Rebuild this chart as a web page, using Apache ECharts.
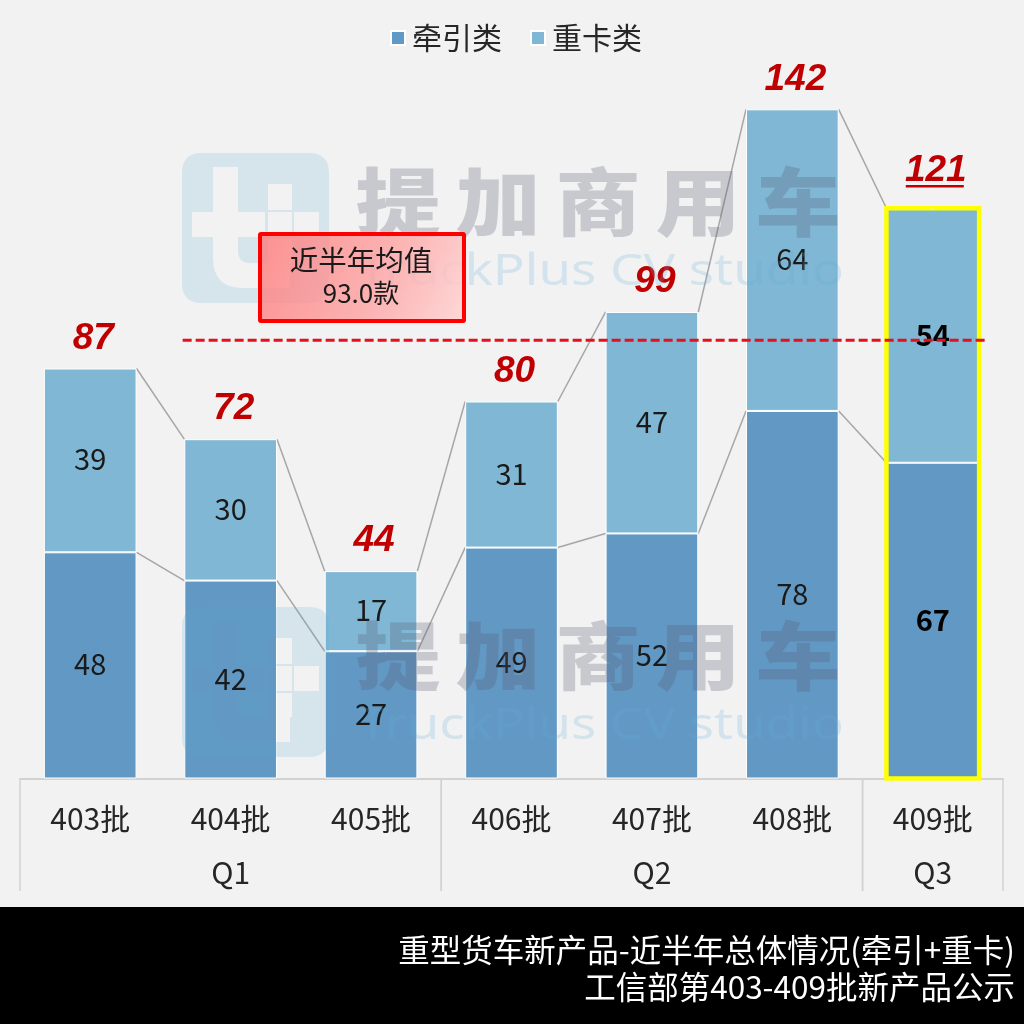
<!DOCTYPE html>
<html>
<head>
<meta charset="utf-8">
<style>html,body{margin:0;padding:0;background:#f2f2f2}#chart{width:1024px;height:1024px}</style>
<script src="https://cdn.jsdelivr.net/npm/echarts@6/dist/echarts.min.js"></script>
</head>
<body>
<div id="chart"></div>
<script>
// Heavy-truck new product counts per MIIT batch
const batches = ['403批', '404批', '405批', '406批', '407批', '408批', '409批'];
const tractor = [48, 42, 27, 49, 52, 78, 67];
const heavy = [39, 30, 17, 31, 47, 64, 54];
const totals = [87, 72, 44, 80, 99, 142, 121];
const quarters = ['Q1', 'Q2', 'Q3'];
const quarterStart = [0, 3, 6];
const quarterEnd = [2, 5, 6];
const averageValue = 93.0;
const highlightIndex = 6;
const titleLines = ['重型货车新产品-近半年总体情况(牵引+重卡)', '工信部第403-409批新产品公示'];

const CJK = '"Noto Sans CJK SC","Noto Sans",sans-serif';
const BAR_RATIO = 0.66;
const MARK_OFFSETS = [0, 454];

function halfBar(api) { return api.size([1, 0])[0] * BAR_RATIO / 2; }

// Outline of the brand tile: rounded square with a cut-out "t" and blocks
function tilePath() {
  const box = (x, y, w, h) => `M${x} ${y}L${x} ${y + h}L${x + w} ${y + h}L${x + w} ${y}Z`;
  const tile = 'M202 153L309 153Q329 153 329 173L329 283Q329 303 309 303L202 303Q182 303 182 283L182 173Q182 153 202 153Z';
  const stem = 'M213 167L213 212L192 212L192 237L213 237L213 258Q213 288 243 288L290 288L290 263L250 263Q238 263 238 251L238 237L265 237L265 212L238 212L238 167Z';
  return [tile, stem, box(268, 184, 24, 26), box(268, 212, 24, 25), box(294, 212, 25, 25), box(268, 239, 24, 24)].join(' ');
}

// Wordmark and English name placed over the plot
function brandText(dy) {
  const items = [];
  Array.from('提加商用车').forEach((ch, i) => items.push({
    type: 'text', z: 20, silent: true, x: 398 + i * 100, y: 202 + dy, scaleX: 1.15,
    style: { text: ch, font: `900 74px ${CJK}`, fill: 'rgba(90,90,115,0.27)', align: 'center', verticalAlign: 'middle' }
  }));
  items.push({
    type: 'text', z: 20, silent: true, x: 601, y: 272 + dy, scaleX: 1.2, originX: 0,
    style: { text: 'TruckPlus CV studio', font: '44px "Noto Sans",sans-serif', fill: 'rgba(100,175,220,0.22)', align: 'center', verticalAlign: 'middle' }
  });
  return items;
}

const dataLabel = {
  show: true, position: 'inside', offset: [0, -1],
  fontFamily: CJK, fontSize: 29, color: '#1a1a1a'
};

const option = {
  backgroundColor: '#f2f2f2',
  animation: false,
  title: {
    text: titleLines.join('\n'),
    left: 1010, top: 927,
    textAlign: 'right',
    textStyle: { color: '#fff', fontFamily: CJK, fontSize: 31.5, fontWeight: 400, lineHeight: 37 }
  },
  legend: {
    data: ['牵引类', '重卡类'],
    left: 385, top: 18,
    icon: 'rect', itemWidth: 14, itemHeight: 14, itemGap: 28,
    textStyle: { fontFamily: CJK, fontSize: 30, color: '#262626', padding: [0, 0, 0, 2] }
  },
  grid: { left: 20, right: 21, top: 24.5, bottom: 245.5 },
  xAxis: {
    type: 'category',
    data: batches,
    axisLine: { lineStyle: { color: '#d2d2d2', width: 2 } },
    axisTick: { show: false },
    axisLabel: { color: '#262626', fontFamily: CJK, fontSize: 30, margin: 25 }
  },
  yAxis: { type: 'value', min: 0, max: 160, show: false, splitLine: { show: false } },
  series: [
    {
      name: '牵引类', type: 'bar', stack: 'total', barWidth: (BAR_RATIO * 100) + '%',
      data: tractor.map((v, i) => i === highlightIndex
        ? { value: v, label: { fontWeight: 700, color: '#000' } } : v),
      itemStyle: { color: '#6299c4', borderColor: '#fff', borderWidth: 1 },
      label: dataLabel
    },
    {
      name: '重卡类', type: 'bar', stack: 'total',
      data: heavy.map((v, i) => i === highlightIndex
        ? { value: v, label: { fontWeight: 700, color: '#000' } } : v),
      itemStyle: { color: '#7fb7d4', borderColor: '#fff', borderWidth: 1 },
      label: dataLabel
    },
    {
      // Invisible line that carries the batch totals above each stack
      name: '合计', type: 'line', z: 6,
      data: totals.map((v, i) => i === highlightIndex ? { value: v, label: { distance: 17 } } : v),
      symbolSize: 1, itemStyle: { color: 'transparent' }, lineStyle: { opacity: 0 },
      label: {
        show: true, position: 'top', distance: 10, offset: [3, 0],
        fontFamily: '"Liberation Sans",Arial,sans-serif', fontStyle: 'italic', fontWeight: 700,
        fontSize: 37, color: '#c00000'
      }
    },
    {
      // Slanted connectors between the stack levels of neighbouring batches
      name: '连接线', type: 'custom', z: 1, silent: true,
      data: batches.slice(0, -1).map((_, i) => [i, tractor[i], tractor[i + 1], totals[i], totals[i + 1]]),
      encode: { x: 0, y: 1 },
      renderItem(params, api) {
        const i = api.value(0), hw = halfBar(api);
        const seg = (a, b) => {
          const p = api.coord([i, a]), q = api.coord([i + 1, b]);
          return {
            type: 'line',
            shape: { x1: p[0] + hw, y1: p[1], x2: q[0] - hw, y2: q[1] },
            style: { stroke: '#a6a6a6', lineWidth: 1.5 }
          };
        };
        return { type: 'group', children: [seg(api.value(1), api.value(2)), seg(api.value(3), api.value(4))] };
      }
    },
    {
      // Quarter band under the axis: separators and quarter names
      name: '季度', type: 'custom', z: 2, silent: true,
      data: quarters.map((q, i) => [quarterStart[i], quarterEnd[i], 0]),
      encode: { x: 0, y: 2 },
      renderItem(params, api) {
        const a = api.coord([api.value(0), 0]), b = api.coord([api.value(1), 0]);
        const hs = api.size([1, 0])[0] / 2;
        const y0 = a[1], y1 = a[1] + 112.5;
        const line = x => ({
          type: 'line',
          shape: { x1: x, y1: y0, x2: x, y2: y1 },
          style: { stroke: '#d2d2d2', lineWidth: 1.5 }
        });
        return {
          type: 'group',
          children: [
            line(a[0] - hs), line(b[0] + hs),
            {
              type: 'text', x: (a[0] + b[0]) / 2, y: y0 + 94.5,
              style: {
                text: quarters[params.dataIndex], fill: '#262626', font: `30px ${CJK}`,
                align: 'center', verticalAlign: 'middle'
              }
            }
          ]
        };
      }
    },
    {
      // Yellow frame and underlined total for the latest batch
      name: '当前批次', type: 'custom', z: 4, silent: true,
      data: [[highlightIndex, totals[highlightIndex]]],
      encode: { x: 0, y: 1 },
      renderItem(params, api) {
        const top = api.coord([api.value(0), api.value(1)]), base = api.coord([api.value(0), 0]);
        const hw = halfBar(api);
        return {
          type: 'group',
          children: [
            {
              type: 'rect',
              shape: { x: top[0] - hw, y: top[1], width: hw * 2, height: base[1] - top[1] },
              style: { fill: 'none', stroke: '#ffff00', lineWidth: 4.5 }
            },
            {
              type: 'line',
              shape: { x1: top[0] - 27, y1: top[1] - 22, x2: top[0] + 31, y2: top[1] - 22 },
              style: { stroke: '#c00000', lineWidth: 2.5 }
            }
          ]
        };
      }
    },
    {
      // Dashed half-year average across the plot
      name: '近半年均值', type: 'custom', z: 7, silent: true,
      data: [[1, averageValue, 6]],
      encode: { x: 0, y: 1 },
      renderItem(params, api) {
        const p = api.coord([api.value(0), api.value(1)]), q = api.coord([api.value(2), api.value(1)]);
        return {
          type: 'line',
          shape: { x1: p[0] - 48, y1: p[1], x2: q[0] + 55, y2: q[1] },
          style: { stroke: '#e3101e', lineWidth: 3, lineDash: [9, 4] }
        };
      }
    },
    {
      // Brand tile, repeated at both watermark positions
      name: '水印', type: 'custom', z: 20, silent: true,
      data: MARK_OFFSETS.map(dy => [0, 0, dy]),
      encode: { x: 0, y: 1 },
      renderItem(params, api) {
        return {
          type: 'path',
          shape: { pathData: tilePath(), x: 182, y: 153 + api.value(2), width: 147, height: 150, layout: 'cover' },
          style: { fill: 'rgba(90,165,210,0.18)' }
        };
      }
    }
  ],
  graphic: {
    elements: [
      {
        type: 'rect', z: 0, silent: true,
        shape: { x: 0, y: 907, width: 1024, height: 117 },
        style: { fill: '#000' }
      },
      ...MARK_OFFSETS.flatMap(brandText),
      {
        type: 'rect', z: 30, silent: true,
        shape: { x: 260, y: 234, width: 204, height: 87, r: 1 },
        style: {
          stroke: '#ff0000', lineWidth: 4,
          fill: new echarts.graphic.LinearGradient(0, 0, 1, 1, [
            { offset: 0, color: 'rgba(255,120,120,0.8)' },
            { offset: 0.5, color: 'rgba(255,150,150,0.75)' },
            { offset: 1, color: 'rgba(255,215,215,0.9)' }
          ])
        }
      },
      {
        type: 'text', z: 31, silent: true, x: 361, y: 260,
        style: { text: '近半年均值', font: `28.5px ${CJK}`, fill: '#1a1a1a', align: 'center', verticalAlign: 'middle' }
      },
      {
        type: 'text', z: 31, silent: true, x: 361, y: 293,
        style: { text: averageValue.toFixed(1) + '款', font: `26px ${CJK}`, fill: '#1a1a1a', align: 'center', verticalAlign: 'middle' }
      }
    ]
  }
};

const chart = echarts.init(document.getElementById('chart'), null, { renderer: 'canvas' });
chart.setOption(option);
</script>
</body>
</html>
